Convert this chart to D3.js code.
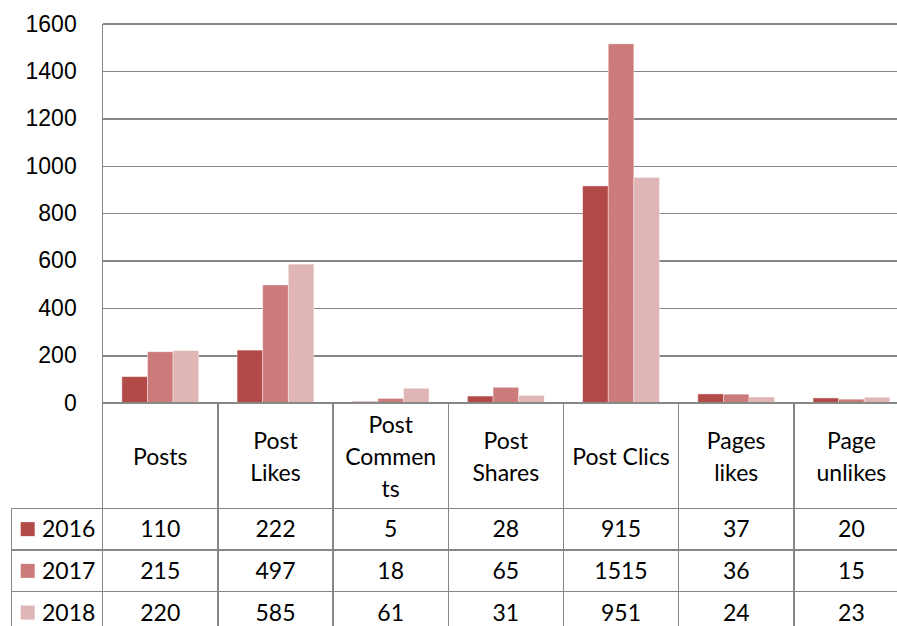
<!DOCTYPE html>
<html>
<head>
<meta charset="utf-8">
<script src="https://cdn.jsdelivr.net/npm/d3@7"></script>
<style>
  body { margin: 0; background: #fff; }
  svg { display: block; font-family: Lato, "Open Sans", sans-serif; }
  text { fill: #000; font-size: 23px; }
  .grid line, .rule { stroke: #868686; stroke-width: 1.5; shape-rendering: crispEdges; }
</style>
</head>
<body>
<svg class="chart" width="897" height="626"></svg>
<script>
const categories = ["Posts", "Post Likes", "Post Comments", "Post Shares", "Post Clics", "Pages likes", "Page unlikes"]
const categoryLines = [["Posts"], ["Post", "Likes"], ["Post", "Commen", "ts"], ["Post", "Shares"], ["Post Clics"], ["Pages", "likes"], ["Page", "unlikes"]]
const years = ["2016", "2017", "2018"]
const values2016 = [110, 222, 5, 28, 915, 37, 20]
const values2017 = [215, 497, 18, 65, 1515, 36, 15]
const values2018 = [220, 585, 61, 31, 951, 24, 23]
const yTicks = [0, 200, 400, 600, 800, 1000, 1200, 1400, 1600]
const colors = ["#b24a48", "#cb7b7a", "#e0b5b5"]

const series = [values2016, values2017, values2018]

const svg = d3.select("svg.chart")

const plotLeft = 102.7, plotRight = 909, plotTop = 23.7, base = 402.7
const headBottom = 508.3, rowH = 41.7

const x = d3.scaleBand()
	.domain(categories)
	.range([plotLeft, plotRight])

const xSub = d3.scaleBand()
	.domain(years)
	.range([0, x.bandwidth()])
	.paddingOuter(0.75)

const y = d3.scaleLinear()
	.domain([0, 1600])
	.range([base, plotTop])

const color = d3.scaleOrdinal().domain(years).range(colors)

// gridlines + y labels
svg.append("g")
	.attr("class", "grid")
	.attr("transform", "translate(" + plotLeft + ",0)")
	.call(d3.axisLeft(y).tickValues(yTicks).tickFormat(d3.format("d")).tickSize(-(plotRight - plotLeft)).tickPadding(26))
	.call(g => g.select(".domain").remove())
	.call(g => g.selectAll("text").attr("font-size", 23).attr("fill", "#000").attr("font-family", null))

// bars
const groups = svg.selectAll("g.cat")
	.data(categories)
	.enter()
	.append("g")
	.attr("class", "cat")
	.attr("transform", d => "translate(" + x(d) + ",0)")

groups.selectAll("rect")
	.data((d, i) => years.map((yr, j) => ({ yr: yr, v: series[j][i] })))
	.enter()
	.append("rect")
	.attr("x", d => xSub(d.yr))
	.attr("y", d => y(d.v))
	.attr("width", xSub.bandwidth())
	.attr("height", d => base - y(d.v))
	.attr("fill", d => color(d.yr))
	.attr("stroke", "#fff")
	.attr("stroke-opacity", 0.5)
	.attr("stroke-width", 0.8)

// table rules
const tableBottom = headBottom + rowH * 3 + 2
svg.append("line").attr("class", "rule")
	.attr("x1", plotLeft).attr("x2", plotLeft).attr("y1", plotTop).attr("y2", tableBottom)
svg.append("line").attr("class", "rule")
	.attr("x1", plotLeft).attr("x2", plotRight).attr("y1", base).attr("y2", base)

svg.selectAll("line.col")
	.data(categories.slice(1).concat([null]))
	.enter()
	.append("line")
	.attr("class", "rule")
	.attr("x1", d => d ? x(d) : plotRight)
	.attr("x2", d => d ? x(d) : plotRight)
	.attr("y1", base)
	.attr("y2", tableBottom)

svg.selectAll("line.row")
	.data(d3.range(4))
	.enter()
	.append("line")
	.attr("class", "rule")
	.attr("x1", 11.7)
	.attr("x2", plotRight)
	.attr("y1", i => headBottom + i * rowH)
	.attr("y2", i => headBottom + i * rowH)

svg.append("line").attr("class", "rule")
	.attr("x1", 11.7).attr("x2", 11.7).attr("y1", headBottom).attr("y2", tableBottom)

// header labels
const headMid = (base + headBottom) / 2 + 1
svg.selectAll("text.head")
	.data(categories)
	.enter()
	.append("text")
	.attr("class", "head")
	.attr("text-anchor", "middle")
	.each(function(d, i) {
		const lines = categoryLines[i]
		const t = d3.select(this)
		lines.forEach((s, k) => {
			t.append("tspan")
				.attr("x", x(d) + x.bandwidth() / 2)
				.attr("y", headMid + (k - (lines.length - 1) / 2) * 32)
				.attr("dy", "0.35em")
				.text(s)
		})
	})

// data rows
years.forEach((yr, j) => {
	const rowMid = headBottom + rowH * j + rowH / 2
	svg.append("rect")
		.attr("x", 20.7)
		.attr("y", rowMid - 7)
		.attr("width", 14)
		.attr("height", 14)
		.attr("fill", color(yr))
	svg.append("text")
		.attr("x", 42)
		.attr("y", rowMid)
		.attr("dy", "0.35em")
		.text(yr)
	svg.selectAll("text.v" + yr)
		.data(series[j])
		.enter()
		.append("text")
		.attr("text-anchor", "middle")
		.attr("x", (d, i) => x(categories[i]) + x.bandwidth() / 2)
		.attr("y", rowMid)
		.attr("dy", "0.35em")
		.text(d => d)
})
</script>
</body>
</html>
